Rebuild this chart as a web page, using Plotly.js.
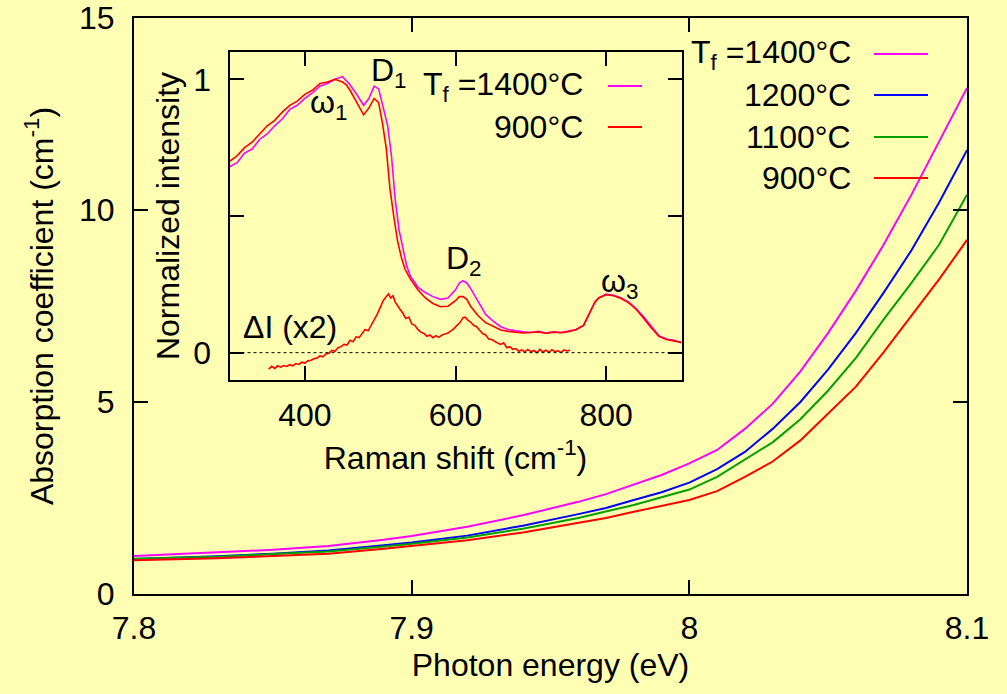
<!DOCTYPE html>
<html>
<head>
<meta charset="utf-8">
<script src="https://cdn.plot.ly/plotly-3.0.1.min.js"></script>
<style>html,body{margin:0;padding:0;background:#ffffb3;}</style>
</head>
<body>
<div id="chart" style="width:1007px;height:694px;"></div>
<script>
// ---- Main chart data: absorption coefficient vs photon energy ----
const energy = [7.80, 7.83, 7.85, 7.87, 7.89, 7.90, 7.92, 7.94, 7.96, 7.97, 7.98, 7.99, 8.00, 8.01, 8.02, 8.03, 8.04, 8.05, 8.06, 8.07, 8.08, 8.09, 8.10];
const alpha1400 = [0.99, 1.08, 1.15, 1.25, 1.41, 1.51, 1.75, 2.05, 2.40, 2.60, 2.85, 3.10, 3.40, 3.75, 4.30, 4.95, 5.80, 6.80, 7.90, 9.10, 10.40, 11.80, 13.18];
const alpha1200 = [0.91, 0.98, 1.05, 1.13, 1.27, 1.34, 1.52, 1.78, 2.08, 2.24, 2.45, 2.65, 2.90, 3.25, 3.70, 4.30, 5.00, 5.85, 6.80, 7.85, 8.95, 10.20, 11.56];
const alpha1100 = [0.92, 0.97, 1.04, 1.11, 1.24, 1.31, 1.47, 1.70, 1.98, 2.14, 2.32, 2.52, 2.72, 3.05, 3.50, 3.95, 4.55, 5.30, 6.15, 7.15, 8.10, 9.10, 10.40];
const alpha900  = [0.88, 0.93, 0.99, 1.05, 1.18, 1.25, 1.40, 1.60, 1.85, 1.98, 2.14, 2.30, 2.45, 2.68, 3.05, 3.45, 4.00, 4.70, 5.40, 6.30, 7.25, 8.20, 9.22];
const mainLabels = ['T<sub>f</sub> =1400°C', '1200°C', '1100°C', '900°C'];
const mainColors = ['#ff00ff', '#0000ff', '#00a000', '#ff0000'];

// ---- Inset data: Raman spectra ----
const shift1400 = [300,310,320,330,340,350,360,370,380,390,400,410,420,430,440,450,455,460,470,478,485,492,498,505,510,515,520,525,530,535,540,550,560,570,580,590,600,605,610,615,620,630,640,650,660,670,680,690,700,710,720,730,740,750,760,770,775,780,785,790,800,810,820,830,840,850,860,870,880,890,900];
const int1400   = [0.68,0.695,0.73,0.745,0.78,0.80,0.83,0.855,0.89,0.905,0.93,0.95,0.975,0.985,1.0,1.01,0.995,0.98,0.94,0.905,0.93,0.975,0.965,0.89,0.83,0.72,0.56,0.45,0.38,0.32,0.28,0.24,0.22,0.205,0.195,0.20,0.23,0.255,0.263,0.255,0.235,0.19,0.14,0.115,0.095,0.085,0.08,0.076,0.074,0.078,0.072,0.076,0.074,0.079,0.085,0.10,0.13,0.16,0.185,0.20,0.214,0.21,0.20,0.185,0.16,0.13,0.095,0.062,0.05,0.045,0.035];
const shift900  = [300,310,320,330,340,350,360,370,380,390,400,410,420,430,440,450,455,460,470,478,485,492,498,503,508,513,518,523,528,533,540,550,560,570,580,590,600,605,610,615,620,630,640,650,660,670,680,690,700,710,720,730,740,750,760,770,775,780,785,790,800,810,820,830,840,850,860,870,880,890,900];
const int900    = [0.70,0.72,0.75,0.77,0.80,0.83,0.85,0.88,0.905,0.92,0.945,0.96,0.985,0.99,1.0,0.99,0.98,0.96,0.91,0.87,0.895,0.93,0.915,0.84,0.75,0.60,0.50,0.41,0.35,0.305,0.27,0.23,0.20,0.18,0.168,0.17,0.19,0.205,0.205,0.195,0.17,0.135,0.11,0.095,0.083,0.078,0.075,0.072,0.074,0.076,0.071,0.075,0.073,0.077,0.084,0.10,0.128,0.158,0.185,0.20,0.212,0.208,0.198,0.182,0.158,0.125,0.09,0.06,0.048,0.043,0.038];
const shiftDiff = [352,356,360,364,368,372,376,380,384,388,392,396,400,404,408,412,416,420,424,428,432,436,440,444,448,452,456,460,464,468,472,476,480,484,488,492,496,500,504,508,511,514,517,520,523,526,530,534,538,542,546,550,554,558,562,566,570,574,578,582,586,590,594,598,602,606,610,613,616,620,624,628,632,636,640,644,648,652,656,660,664,668,672,676,680,684,688,692,696,700,704,708,712,716,720,724,728,732,736,740,744,748,752];
const intDiff   = [-0.06,-0.05,-0.058,-0.048,-0.053,-0.047,-0.05,-0.044,-0.048,-0.04,-0.043,-0.035,-0.038,-0.03,-0.028,-0.022,-0.02,-0.012,-0.015,-0.005,-0.002,0.008,0.005,0.018,0.022,0.03,0.028,0.045,0.04,0.058,0.055,0.07,0.085,0.08,0.1,0.115,0.14,0.165,0.19,0.205,0.215,0.2,0.208,0.185,0.17,0.16,0.145,0.125,0.13,0.105,0.1,0.085,0.075,0.07,0.06,0.065,0.055,0.062,0.056,0.065,0.068,0.072,0.08,0.088,0.1,0.11,0.128,0.13,0.12,0.112,0.1,0.095,0.082,0.07,0.065,0.05,0.048,0.04,0.035,0.03,0.036,0.018,0.022,0.012,0.015,0.005,0.01,0.003,0.012,0.004,0.008,0.0,0.012,0.003,0.009,0.002,0.011,0.004,0.007,0.001,0.01,0.006,0.009];
const insetLabels = ['T<sub>f</sub> =1400°C', '900°C'];
const insetColors = ['#ff00ff', '#ff0000'];

const FONT = '"Liberation Sans", Arial, sans-serif';
const FS = 32;

// pixel -> paper helpers (main plot area: x 134..967, y 18..594)
const PL = 134, PR = 967, PT = 18, PB = 594;
const px = x => (x - PL) / (PR - PL);
const py = y => (PB - y) / (PB - PT);

const traces = [
  {x: energy, y: alpha1400, line: {color: mainColors[0], width: 2}},
  {x: energy, y: alpha1200, line: {color: mainColors[1], width: 2}},
  {x: energy, y: alpha1100, line: {color: mainColors[2], width: 2}},
  {x: energy, y: alpha900,  line: {color: mainColors[3], width: 2}},
  {x: shift1400, y: int1400, xaxis: 'x2', yaxis: 'y2', line: {color: insetColors[0], width: 1.6}},
  {x: shift900,  y: int900,  xaxis: 'x2', yaxis: 'y2', line: {color: insetColors[1], width: 1.6}},
  {x: shiftDiff, y: intDiff, xaxis: 'x2', yaxis: 'y2', line: {color: insetColors[1], width: 1.6}}
].map(t => Object.assign({type: 'scatter', mode: 'lines', hoverinfo: 'skip'}, t));

const axisCommon = {
  showline: true, linecolor: '#000', linewidth: 2, mirror: 'ticks',
  ticks: 'inside', ticklen: 14, tickwidth: 2, tickcolor: '#000',
  showgrid: false, zeroline: false, automargin: false,
  tickfont: {family: FONT, size: FS, color: '#000'}
};

const annotations = [];
const shapes = [];
// dotted zero line in inset
shapes.push({type: 'line', xref: 'x2 domain', yref: 'y2', x0: 0, x1: 1, y0: 0, y1: 0, line: {color: '#000', width: 1, dash: 'dot'}, layer: 'above'});
// main legend
const mainRows = [54, 95, 137, 178];
mainLabels.forEach((lab, i) => {
  annotations.push({xref: 'paper', yref: 'paper', x: px(853), y: py(mainRows[i]), xanchor: 'right', yanchor: 'middle', text: lab, showarrow: false, font: {family: FONT, size: FS, color: '#000'}});
  shapes.push({type: 'line', xref: 'paper', yref: 'paper', x0: px(874), x1: px(928), y0: py(mainRows[i]), y1: py(mainRows[i]), line: {color: mainColors[i], width: 2}});
});
// inset legend
const insetRows = [86, 127];
insetLabels.forEach((lab, i) => {
  annotations.push({xref: 'paper', yref: 'paper', x: px(585), y: py(insetRows[i]), xanchor: 'right', yanchor: 'middle', text: lab, showarrow: false, font: {family: FONT, size: FS, color: '#000'}});
  shapes.push({type: 'line', xref: 'paper', yref: 'paper', x0: px(608), x1: px(642), y0: py(insetRows[i]), y1: py(insetRows[i]), line: {color: insetColors[i], width: 2}});
});
// peak labels in inset
const peakLabels = [
  {t: 'D<sub>1</sub>', x: 369, y: 72},
  {t: 'ω<sub>1</sub>', x: 308, y: 104},
  {t: 'D<sub>2</sub>', x: 444, y: 260},
  {t: 'ω<sub>3</sub>', x: 599, y: 283},
  {t: 'ΔI (x2)', x: 241, y: 327}
];
peakLabels.forEach(p => annotations.push({xref: 'paper', yref: 'paper', x: px(p.x), y: py(p.y), xanchor: 'left', yanchor: 'middle', text: p.t, showarrow: false, font: {family: FONT, size: FS, color: '#000'}}));

const layout = {
  width: 1007, height: 694,
  paper_bgcolor: '#ffffb3', plot_bgcolor: '#ffffb3',
  margin: {l: PL, r: 1007 - PR, t: PT, b: 694 - PB, pad: 0},
  font: {family: FONT, size: FS, color: '#000'},
  showlegend: false,
  xaxis: Object.assign({}, axisCommon, {
    range: [7.8, 8.1], tickvals: [7.8, 7.9, 8.0, 8.1], ticktext: ['7.8', '7.9', '8', '8.1'],
    ticklabelstandoff: 5,
    title: {text: 'Photon energy (eV)', standoff: 8, font: {family: FONT, size: FS, color: '#000'}}
  }),
  yaxis: Object.assign({}, axisCommon, {
    range: [0, 15], tickvals: [0, 5, 10, 15],
    ticklabelstandoff: 11,
    title: {text: 'Absorption coefficient (cm<sup>-1</sup>)', standoff: 16, font: {family: FONT, size: FS, color: '#000'}}
  }),
  xaxis2: Object.assign({}, axisCommon, {
    domain: [px(229.5), px(681.5)], anchor: 'y2', range: [300, 900], tickvals: [400, 600, 800],
    ticklabelstandoff: 6,
    title: {text: 'Raman shift (cm<sup>-1</sup>)', standoff: 14, font: {family: FONT, size: FS, color: '#000'}}
  }),
  yaxis2: Object.assign({}, axisCommon, {
    domain: [py(380), py(52)], anchor: 'x2', range: [-0.1, 1.1], tickvals: [0, 0.5, 1], ticktext: ['0', '', '1'],
    ticklabelstandoff: 10,
    title: {text: 'Normalized intensity', standoff: 4, font: {family: FONT, size: FS, color: '#000'}}
  }),
  annotations: annotations,
  shapes: shapes
};

Plotly.newPlot('chart', traces, layout, {displayModeBar: false, staticPlot: true});
</script>
</body>
</html>
